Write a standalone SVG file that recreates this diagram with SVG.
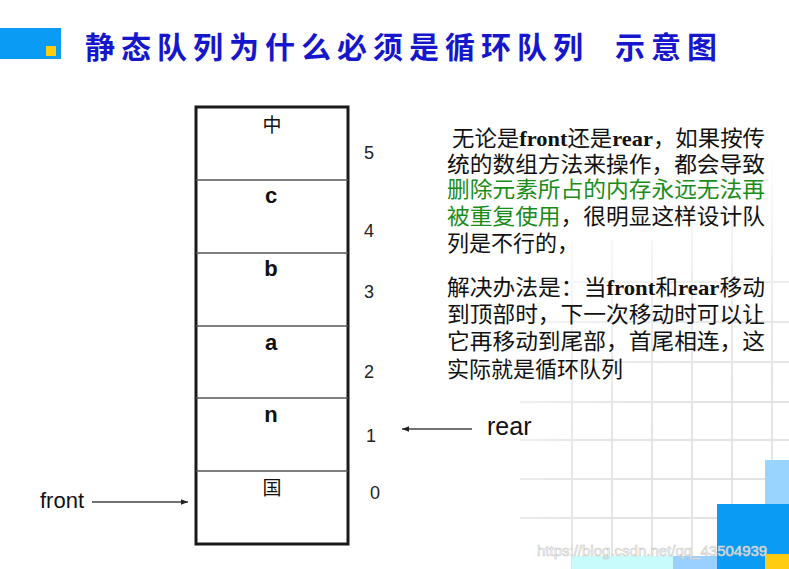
<svg xmlns="http://www.w3.org/2000/svg" width="789" height="569" viewBox="0 0 789 569">
<defs>
<style>
.num{font-family:"Liberation Sans",Arial,sans-serif;font-size:18px;fill:#222}
.lab{font-family:"Liberation Sans","Noto Sans CJK SC",sans-serif;font-size:22px;font-weight:bold;fill:#111;text-anchor:middle}
.labc{font-family:"Noto Sans CJK SC",sans-serif;font-size:19px;fill:#111;text-anchor:middle}
.ptr{font-family:"Liberation Sans",Arial,sans-serif;fill:#111}
.para{font-family:"Liberation Serif","Noto Sans CJK SC",serif;font-size:22px;fill:#111}
.b{font-weight:bold}
.g{fill:#1a8c1a}
.grid line{stroke:#e2e2e2;stroke-width:2}
.conn{stroke:#444;stroke-width:1.4;fill:none}
</style>
<marker id="ah" viewBox="0 0 10 10" refX="10" refY="5" markerWidth="7" markerHeight="7" markerUnits="userSpaceOnUse" orient="auto">
<path d="M0,1 L10,5 L0,9 z" fill="#222"/>
</marker>
<radialGradient id="fade" cx="789" cy="569" r="420" gradientUnits="userSpaceOnUse">
<stop offset="0" stop-color="#fff"/>
<stop offset="0.55" stop-color="#fff" stop-opacity="0.9"/>
<stop offset="1" stop-color="#fff" stop-opacity="0"/>
</radialGradient>
<mask id="gm"><rect x="0" y="0" width="789" height="569" fill="url(#fade)"/></mask>
</defs>
<rect width="789" height="569" fill="#fff"/>

<g id="background">
<g class="grid" mask="url(#gm)">
<line x1="572" y1="240" x2="572" y2="569"/>
<line x1="612" y1="240" x2="612" y2="569"/>
<line x1="652" y1="240" x2="652" y2="569"/>
<line x1="692" y1="200" x2="692" y2="569"/>
<line x1="732" y1="180" x2="732" y2="569"/>
<line x1="772" y1="160" x2="772" y2="569"/>
<line x1="520" y1="282" x2="789" y2="282"/>
<line x1="520" y1="322" x2="789" y2="322"/>
<line x1="520" y1="362" x2="789" y2="362"/>
<line x1="520" y1="402" x2="789" y2="402"/>
<line x1="520" y1="440" x2="789" y2="440"/>
<line x1="520" y1="479" x2="789" y2="479"/>
<line x1="520" y1="518" x2="789" y2="518"/>
</g>
<rect x="765" y="460" width="24" height="44" fill="#99d4ff"/>
<rect x="717" y="504" width="72" height="65" fill="#0a9cf5"/>
<rect x="765" y="554" width="24" height="15" fill="#ffcc11"/>
<rect x="572" y="556" width="101" height="13" fill="#c8fbfb"/>
<rect x="673" y="556" width="44" height="13" fill="#99d0ff"/>
<text x="537" y="556" font-family="'Liberation Sans',Arial,sans-serif" font-size="15" fill="#fff" fill-opacity="0.85" stroke="#c8c8c8" stroke-width="0.6">https://blog.csdn.net/qq_43504939</text>
</g>

<g id="header">
<rect x="0" y="28" width="61" height="31" fill="#0a9cf5"/>
<rect x="46" y="46" width="10" height="10" fill="#ffcc11"/>
<text font-family="'Noto Sans CJK SC',sans-serif" font-size="30" font-weight="bold" fill="#1616cc" letter-spacing="6"><tspan x="85" y="58">静态队列为什么必须是循环队列</tspan><tspan x="615" y="58">示意图</tspan></text>
</g>

<g id="queue">
<rect x="196" y="107" width="152" height="437" fill="#fff" stroke="#1a1a1a" stroke-width="3"/>
<line x1="196" y1="180" x2="348" y2="180" stroke="#555" stroke-width="1.5"/>
<line x1="196" y1="253" x2="348" y2="253" stroke="#555" stroke-width="1.5"/>
<line x1="196" y1="326" x2="348" y2="326" stroke="#555" stroke-width="1.5"/>
<line x1="196" y1="398" x2="348" y2="398" stroke="#555" stroke-width="1.5"/>
<line x1="196" y1="471" x2="348" y2="471" stroke="#555" stroke-width="1.5"/>
</g>
<g id="cell5"><text class="labc" x="272" y="132">中</text><text class="num" x="364" y="159">5</text></g>
<g id="cell4"><text class="lab" x="271" y="203">c</text><text class="num" x="364" y="237">4</text></g>
<g id="cell3"><text class="lab" x="271" y="276">b</text><text class="num" x="364" y="298">3</text></g>
<g id="cell2"><text class="lab" x="271" y="350">a</text><text class="num" x="364" y="378">2</text></g>
<g id="cell1"><text class="lab" x="271" y="422">n</text><text class="num" x="366" y="442">1</text></g>
<g id="cell0"><text class="labc" x="272" y="495">国</text><text class="num" x="370" y="499">0</text></g>

<g id="rear"><text class="ptr" x="487" y="435" font-size="25">rear</text></g>
<g id="front"><text class="ptr" x="40" y="508" font-size="22">front</text></g>

<g id="connectors">
<line class="conn" x1="472" y1="429" x2="402" y2="429" marker-end="url(#ah)"/>
<line class="conn" x1="92" y1="502" x2="188" y2="502" marker-end="url(#ah)"/>
</g>

<g id="note1">
<text class="para" x="452" y="146" textLength="313" lengthAdjust="spacingAndGlyphs">无论是<tspan class="b">front</tspan>还是<tspan class="b">rear</tspan>，如果按传</text>
<text class="para" x="447" y="172" textLength="318" lengthAdjust="spacingAndGlyphs">统的数组方法来操作，都会导致</text>
<text class="para g" x="447" y="197" textLength="318" lengthAdjust="spacingAndGlyphs">删除元素所占的内存永远无法再</text>
<text class="para" x="447" y="224" textLength="318" lengthAdjust="spacingAndGlyphs"><tspan class="g">被重复使用</tspan>，很明显这样设计队</text>
<text class="para" x="447" y="251">列是不行的，</text>
</g>
<g id="note2">
<text class="para" x="447" y="295" textLength="318" lengthAdjust="spacingAndGlyphs">解决办法是：当<tspan class="b">front</tspan>和<tspan class="b">rear</tspan>移动</text>
<text class="para" x="447" y="322" textLength="318" lengthAdjust="spacingAndGlyphs">到顶部时，下一次移动时可以让</text>
<text class="para" x="447" y="349" textLength="318" lengthAdjust="spacingAndGlyphs">它再移动到尾部，首尾相连，这</text>
<text class="para" x="447" y="377">实际就是循环队列</text>
</g>
</svg>
